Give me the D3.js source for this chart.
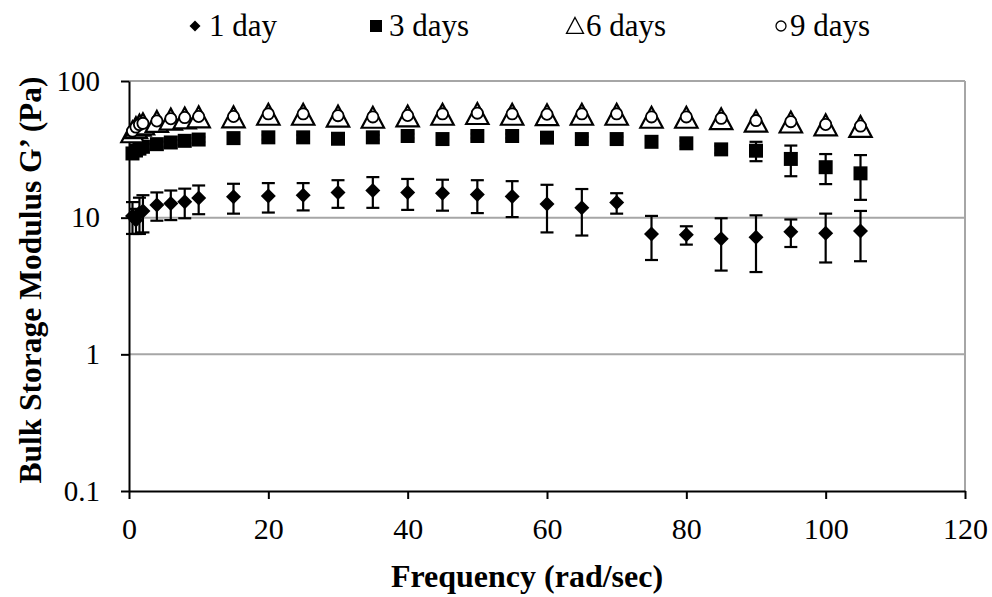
<!DOCTYPE html>
<html>
<head>
<meta charset="utf-8">
<script src="https://cdn.jsdelivr.net/npm/d3@7"></script>
<style>
  body { margin: 0; background: #fff; }
  text { font-family: "Liberation Serif", "Times New Roman", serif; fill: #000; }
</style>
</head>
<body>
<div id="chart"></div>
<script>
// frequencies (rad/sec)
const freq = [0.5, 1, 1.5, 2, 4, 6, 8, 10, 15, 20, 25, 30, 35, 40, 45, 50, 55, 60, 65, 70, 75, 80, 85, 90, 95, 100, 105];

// G' (Pa) per storage time
const day1 = [10.3, 9.6, 10.8, 11.2, 12.4, 12.7, 13.1, 13.9, 14.2, 14.4, 14.6, 15.3, 15.8, 15.3, 15.1, 14.8, 14.3, 12.6, 11.8, 12.9, 7.6, 7.5, 7.0, 7.2, 7.9, 7.7, 8.0];
const day1Err = [2.7, 2.0, 3.2, 3.4, 2.9, 3.1, 3.2, 3.3, 3.5, 3.5, 3.3, 3.5, 4.0, 3.9, 3.85, 4.0, 4.2, 4.8, 4.4, 2.2, 2.7, 1.15, 2.9, 3.2, 1.8, 3.0, 3.2];
const day3 = [29.5, 31, 32, 33, 34.5, 35.5, 36.5, 37.3, 38.2, 38.7, 38.7, 37.8, 38.7, 39.6, 37.6, 39.6, 39.6, 38.5, 37.6, 37.6, 35.9, 35.0, 31.6, 30.9, 26.9, 23.4, 21.1];
const day3Err = [1.5, 1.5, 1.5, 1.5, 1.5, 1.5, 1.5, 1.5, 1.5, 1.5, 1.5, 1.5, 1.5, 1.5, 1.5, 1.5, 1.5, 1.5, 1.5, 1.5, 1.5, 1.5, 2.0, 5.0, 6.8, 5.8, 7.6];
const day6 = [42, 45, 47, 48, 50, 52, 53, 54, 54, 56.4, 56.4, 54.7, 53.6, 54.8, 56.4, 57.1, 56.4, 56.0, 56.4, 56.4, 53.6, 53.6, 52.3, 50.3, 49.5, 47.2, 45.9];
const day9 = [43, 46, 48, 49, 51, 53, 54, 55, 55, 57.5, 57.5, 55.8, 54.6, 55.9, 57.5, 58.2, 57.5, 57.1, 57.5, 57.5, 54.6, 54.6, 53.3, 51.3, 50.4, 48.1, 46.8];

const seriesNames = ["1 day", "3 days", "6 days", "9 days"];
const yTicks = [0.1, 1, 10, 100];
const xTicks = [0, 20, 40, 60, 80, 100, 120];

const W = 992, H = 597;
const plot = { left: 129, right: 965, top: 81, bottom: 491 };

const svg = d3.select("#chart").append("svg")
  .attr("width", W).attr("height", H);
svg.append("rect").attr("width", W).attr("height", H).attr("fill", "#fff");

const x = d3.scaleLinear().domain([0, 120]).range([plot.left, plot.right]);
const y = d3.scaleLog().domain([0.1, 100]).range([plot.bottom, plot.top]);

// custom marker shapes (size = half extent)
const diamond = { draw(ctx, s) { ctx.moveTo(0, -s); ctx.lineTo(s, 0); ctx.lineTo(0, s); ctx.lineTo(-s, 0); ctx.closePath(); } };
const square = { draw(ctx, s) { ctx.rect(-s, -s, 2 * s, 2 * s); } };
const triangle = { draw(ctx, s) { ctx.moveTo(0, -s); ctx.lineTo(s, s * 0.87); ctx.lineTo(-s, s * 0.87); ctx.closePath(); } };
const circle = { draw(ctx, s) { ctx.moveTo(s, 0); ctx.arc(0, 0, s, 0, 2 * Math.PI); } };

// gridlines
svg.append("g")
  .selectAll("line")
  .data([1, 10, 100])
  .join("line")
  .attr("x1", plot.left).attr("x2", plot.right)
  .attr("y1", d => y(d)).attr("y2", d => y(d))
  .attr("stroke", "#a6a6a6").attr("stroke-width", 2);

// right border
svg.append("line")
  .attr("x1", plot.right).attr("x2", plot.right)
  .attr("y1", plot.top).attr("y2", plot.bottom)
  .attr("stroke", "#a6a6a6").attr("stroke-width", 2);

// X axis
const xAxis = svg.append("g")
  .attr("transform", `translate(0,${plot.bottom})`)
  .call(d3.axisBottom(x).tickValues(xTicks).tickSize(8).tickSizeOuter(0).tickPadding(19));
xAxis.selectAll("text").style("font-size", "30px");

// Y axis
const yAxis = svg.append("g")
  .attr("transform", `translate(${plot.left},0)`)
  .call(d3.axisLeft(y).tickValues(yTicks).tickFormat(d3.format("~g")).tickSize(8).tickSizeOuter(0).tickPadding(21));
yAxis.selectAll("text").style("font-size", "29px");

svg.selectAll(".domain, .tick line").attr("stroke", "#000").attr("stroke-width", 2);
svg.selectAll(".tick text").attr("font-family", null);

// error bars
function errorBars(vals, errs) {
  const g = svg.append("g").attr("stroke", "#000").attr("stroke-width", 2.2);
  const data = freq.map((f, i) => ({ f, lo: vals[i] - errs[i], hi: vals[i] + errs[i] }));
  g.selectAll(".v").data(data).join("line")
    .attr("x1", d => x(d.f)).attr("x2", d => x(d.f))
    .attr("y1", d => y(d.lo)).attr("y2", d => y(d.hi));
  ["lo", "hi"].forEach(k => {
    g.selectAll(".c" + k).data(data).join("line")
      .attr("x1", d => x(d.f) - 6.5).attr("x2", d => x(d.f) + 6.5)
      .attr("y1", d => y(d[k])).attr("y2", d => y(d[k]));
  });
}

function markers(vals, type, size, fill, stroke, sw) {
  svg.append("g")
    .selectAll("path")
    .data(freq.map((f, i) => [f, vals[i]]))
    .join("path")
    .attr("transform", d => `translate(${x(d[0])},${y(d[1])})`)
    .attr("d", d3.symbol(type, size))
    .attr("fill", fill)
    .attr("stroke", stroke)
    .attr("stroke-width", sw);
}

errorBars(day1, day1Err);
markers(day1, diamond, 7.5, "#000", "none", 0);
errorBars(day3, day3Err);
markers(day3, square, 7, "#000", "none", 0);
markers(day6, triangle, 11.2, "#fff", "#000", 2.2);
markers(day9, circle, 5.6, "#fff", "#000", 1.8);

// legend
const legendItems = [
  { name: seriesNames[0], type: diamond, size: 5.5, fill: "#000", stroke: "none", sw: 0, mx: 195, tx: 209 },
  { name: seriesNames[1], type: square, size: 6, fill: "#000", stroke: "none", sw: 0, mx: 376, tx: 389 },
  { name: seriesNames[2], type: triangle, size: 8.5, fill: "#fff", stroke: "#000", sw: 1.3, mx: 575, tx: 586 },
  { name: seriesNames[3], type: circle, size: 5, fill: "#fff", stroke: "#000", sw: 1.3, mx: 781, tx: 790 }
];
const legend = svg.append("g").selectAll("g").data(legendItems).join("g");
legend.append("path")
  .attr("transform", d => `translate(${d.mx},26)`)
  .attr("d", d => d3.symbol(d.type, d.size)())
  .attr("fill", d => d.fill).attr("stroke", d => d.stroke).attr("stroke-width", d => d.sw);
legend.append("text")
  .attr("x", d => d.tx).attr("y", 36)
  .style("font-size", "31px")
  .text(d => d.name);

// axis titles
svg.append("text")
  .attr("x", 527).attr("y", 587)
  .attr("text-anchor", "middle")
  .style("font-size", "32px").style("font-weight", "bold")
  .text("Frequency (rad/sec)");

svg.append("text")
  .attr("transform", "translate(30,280) rotate(-90)")
  .attr("dy", "0.35em")
  .attr("text-anchor", "middle")
  .style("font-size", "31.5px").style("font-weight", "bold")
  .text("Bulk Storage Modulus G\u2019 (Pa)");
</script>
</body>
</html>
